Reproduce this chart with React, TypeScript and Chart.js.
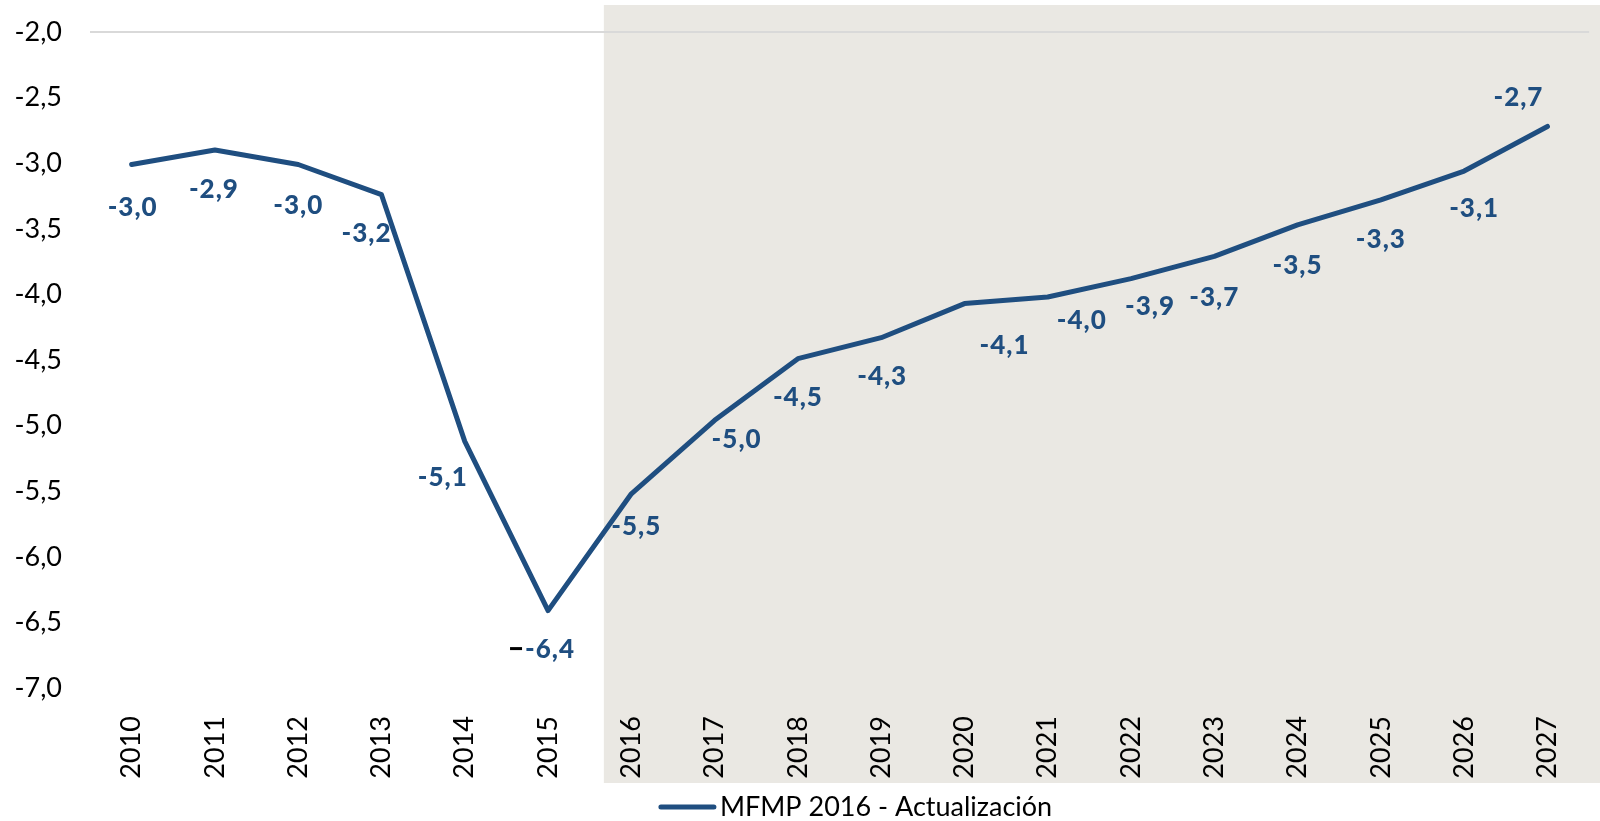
import { useEffect, useRef } from "react";
import { Chart, registerables } from "chart.js";

Chart.register(...registerables);

// ---- data ----
const YEARS = [
  "2010", "2011", "2012", "2013", "2014", "2015", "2016", "2017", "2018",
  "2019", "2020", "2021", "2022", "2023", "2024", "2025", "2026", "2027",
];
const SERIES_NAME = "MFMP 2016 - Actualización";
const BALANCE = [
  -3.01, -2.9, -3.01, -3.24, -5.12, -6.41, -5.52, -4.96, -4.49,
  -4.33, -4.07, -4.02, -3.88, -3.71, -3.47, -3.28, -3.06, -2.72,
];
const FORECAST_START = "2016";
const Y_MIN = -7;
const Y_MAX = -2;
const Y_STEP = 0.5;

// ---- styles ----
const LINE_COLOR = "#1F4E80";
const SHADE_COLOR = "#EAE8E3";
const GRID_COLOR = "#D9D9D9";
const FONT = "Lato, 'Open Sans', sans-serif";
// data label placement relative to each point (dx, dy in px)
const LABEL_OFFSETS: [number, number][] = [
  [1, 43], [-1, 40], [0, 41], [-15, 39], [-22, 36], [2, 39], [5, 33], [22, 19], [0, 39],
  [1, 39], [40, 42], [34, 24], [19, 28], [0, 41], [0, 41], [0, 40], [10, 38], [-29, -29],
];

const fmt = (v: number) => v.toFixed(1).replace(".", ",");

const shadePlugin = {
  id: "forecastShade",
  beforeDraw(chart: any) {
    const x = chart.scales.x;
    const { ctx, chartArea } = chart;
    const i = YEARS.indexOf(FORECAST_START);
    const band = x.getPixelForValue(1) - x.getPixelForValue(0);
    const left = x.getPixelForValue(i) - band * 0.33;
    const top = chartArea.top - 27;
    const bottom = chart.height - 38;
    ctx.save();
    ctx.fillStyle = SHADE_COLOR;
    ctx.fillRect(left, top, chart.width - left, bottom - top);
    ctx.restore();
  },
};

const labelPlugin = {
  id: "pointLabels",
  afterDatasetsDraw(chart: any) {
    const { ctx } = chart;
    const meta = chart.getDatasetMeta(0);
    const minIdx = BALANCE.indexOf(Math.min(...BALANCE));
    ctx.save();
    ctx.font = `900 26px ${FONT}`;
    (ctx as any).letterSpacing = "1px";
    ctx.textAlign = "center";
    ctx.textBaseline = "middle";
    meta.data.forEach((pt: any, i: number) => {
      const [dx, dy] = LABEL_OFFSETS[i];
      const text = fmt(BALANCE[i]);
      const cx = pt.x + dx;
      const cy = pt.y + dy;
      ctx.fillStyle = LINE_COLOR;
      ctx.fillText(text, cx, cy);
      if (i === minIdx) {
        const w = ctx.measureText(text).width;
        ctx.strokeStyle = "#000";
        ctx.lineWidth = 3;
        ctx.beginPath();
        ctx.moveTo(cx - w / 2 - 15, cy - 1);
        ctx.lineTo(cx - w / 2 - 3, cy - 1);
        ctx.stroke();
      }
    });
    ctx.restore();
  },
};

const legendPlugin = {
  id: "bottomLegend",
  afterDraw(chart: any) {
    const { ctx, chartArea } = chart;
    ctx.save();
    ctx.font = `27px ${FONT}`;
    const tw = ctx.measureText(SERIES_NAME).width;
    const lineW = 57;
    const gap = 4;
    const total = lineW + gap + tw;
    const cx = (chartArea.left + chartArea.right) / 2 + 16;
    const y = chart.height - 14;
    const x0 = cx - total / 2;
    ctx.strokeStyle = LINE_COLOR;
    ctx.lineWidth = 5;
    ctx.lineCap = "round";
    ctx.beginPath();
    ctx.moveTo(x0 + 2, y);
    ctx.lineTo(x0 + lineW - 2, y);
    ctx.stroke();
    ctx.fillStyle = "#000";
    ctx.textAlign = "left";
    ctx.textBaseline = "middle";
    ctx.fillText(SERIES_NAME, x0 + lineW + gap, y);
    ctx.restore();
  },
};

export default function App() {
  const ref = useRef<HTMLCanvasElement | null>(null);
  useEffect(() => {
    if (!ref.current) return;
    const chart = new Chart(ref.current, {
      type: "line",
      data: {
        labels: YEARS,
        datasets: [
          {
            label: SERIES_NAME,
            data: BALANCE,
            borderColor: LINE_COLOR,
            backgroundColor: LINE_COLOR,
            borderWidth: 5,
            pointRadius: 0,
            tension: 0,
            borderCapStyle: "round",
            borderJoinStyle: "round",
          },
        ],
      },
      options: {
        animation: false,
        responsive: false,
        devicePixelRatio: 1,
        layout: { padding: { top: 32, right: 6, left: 0, bottom: 0 } },
        plugins: {
          legend: { display: false },
          tooltip: { enabled: false },
        },
        scales: {
          x: {
            offset: true,
            grid: { display: false },
            border: { display: false },
            ticks: {
              minRotation: 90,
              maxRotation: 90,
              padding: 20,
              color: "#000",
              font: { family: FONT, size: 27 },
            },
            afterFit(scale: any) {
              scale.height = 133;
            },
          },
          y: {
            min: Y_MIN,
            max: Y_MAX,
            grid: {
              drawTicks: false,
              lineWidth: 2,
              color: (c: any) => (c.tick && c.tick.value === Y_MAX ? GRID_COLOR : "rgba(0,0,0,0)"),
            },
            border: { display: false },
            ticks: {
              stepSize: Y_STEP,
              padding: 28,
              color: "#000",
              font: { family: FONT, size: 27 },
              callback: (v: any) => fmt(Number(v)),
            },
            afterFit(scale: any) {
              scale.width = 90;
              scale.paddingTop = 0;
              scale.paddingBottom = 0;
            },
          },
        },
      },
      plugins: [shadePlugin, labelPlugin, legendPlugin],
    });
    return () => chart.destroy();
  }, []);
  return (
    <div style={{ position: "absolute", left: 0, top: 0, width: 1600, height: 821 }}>
      <canvas ref={ref} width={1600} height={821} />
    </div>
  );
}
